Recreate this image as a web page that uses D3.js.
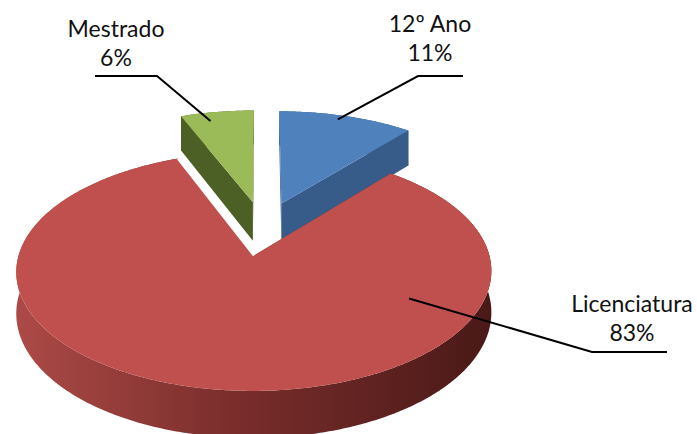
<!DOCTYPE html>
<html>
<head>
<meta charset="utf-8">
<script src="https://cdn.jsdelivr.net/npm/d3@7"></script>
<style>
  body { margin: 0; background: #fff; }
  .label { font-family: Lato, "Open Sans", sans-serif; font-size: 23px; fill: #111; }
  .leader { fill: none; stroke: #000; stroke-width: 2; }
</style>
</head>
<body>
<script>
//chart data
var categories = ["12º Ano", "Licenciatura", "Mestrado"];
var values = [11, 83, 6];
var pctLabels = ["11%", "83%", "6%"];

//colours for top faces and side faces
var topColors = ["#4F81BD", "#C0504D", "#9BBB59"];
var sideColors = ["#375C8A", "url(#redSide)", "#4C5F25"];

var width = 697,
    height = 434;

//3d view settings: screen position of pie centre, horizontal radius,
//vertical radius, perspective strength, side height, explode distance
var view = {cx: 263, cy: 228, a: 228, ab: 110, c: 0.13, h: 39.5, explode: 0.245};

//label layout: text position, leader elbow and where the leader touches the slice
var labelLayout = [
    {x: 430, y: 32, line: [[463, 76], [418, 76]], angle: 18, r: 0.95},
    {x: 632, y: 312, line: [[667, 352], [592, 352]], angle: 119, r: 0.72},
    {x: 116, y: 37, line: [[95, 76], [157, 76]], angle: 346, r: 0.9}
];

var svg = d3.select("body")
    .append("svg")
    .attr("width", width)
    .attr("height", height);

//gradient for the red outer wall
var grad = svg.append("defs").append("linearGradient")
    .attr("id", "redSide")
    .attr("gradientUnits", "userSpaceOnUse")
    .attr("x1", 15).attr("x2", 490)
    .attr("y1", 0).attr("y2", 0);
grad.append("stop").attr("offset", "0%").attr("stop-color", "#AD4A47");
grad.append("stop").attr("offset", "45%").attr("stop-color", "#7A2E2C");
grad.append("stop").attr("offset", "100%").attr("stop-color", "#4A1917");

var color = d3.scaleOrdinal().domain(categories).range(topColors);
var sideColor = d3.scaleOrdinal().domain(categories).range(sideColors);

//slices clockwise from 12 o'clock, keep data order
var pie = d3.pie().sort(null).value(function(d){ return d.value; });
var slices = pie(categories.map(function(c, i){ return {name: c, value: values[i], pct: pctLabels[i]}; }));

//project a point of the pie plane (X right, W away from viewer, H up) to the screen
function project(X, W, H){
    var d = 1 + view.c * W;
    return [view.cx + view.a * X / d, view.cy - (view.ab * W + view.h * H) / d];
}

slices.forEach(function(s){
    var mid = (s.startAngle + s.endAngle) / 2;
    s.ox = view.explode * Math.sin(mid);
    s.ow = view.explode * Math.cos(mid);
});

function rimPoint(s, t, r, H){
    return project(s.ox + r * Math.sin(t), s.ow + r * Math.cos(t), H);
}

function rim(s, H){
    var pts = [];
    var n = Math.max(4, Math.ceil((s.endAngle - s.startAngle) / 0.01));
    for (var i = 0; i <= n; i++){
        var t = s.startAngle + (s.endAngle - s.startAngle) * i / n;
        pts.push(rimPoint(s, t, 1, H));
    }
    return pts;
}

var line = d3.line();

function topPath(s){
    return line([project(s.ox, s.ow, 0)].concat(rim(s, 0))) + "Z";
}
function outerPath(s){
    return line(rim(s, 0).concat(rim(s, -1).reverse())) + "Z";
}
function cutPath(s, t){
    var c0 = project(s.ox, s.ow, 0),
        c1 = project(s.ox, s.ow, -1);
    return line([c0, rimPoint(s, t, 1, 0), rimPoint(s, t, 1, -1), c1]) + "Z";
}

//side walls, far slices first
var order = slices.slice().sort(function(p, q){ return q.ow - p.ow; });

var sides = svg.append("g");
order.forEach(function(s){
    sides.append("path")
        .attr("d", outerPath(s))
        .attr("fill", sideColor(s.data.name));
    [s.startAngle, s.endAngle].forEach(function(t){
        sides.append("path")
            .attr("d", cutPath(s, t))
            .attr("fill", sideColor(s.data.name) === "url(#redSide)" ? "#7A2E2C" : sideColor(s.data.name));
    });
});

//top faces
svg.append("g").selectAll("path")
    .data(order)
    .enter()
    .append("path")
    .attr("d", topPath)
    .attr("fill", function(d){ return color(d.data.name); });

//thin white edge along the trailing edge of the big slice
var big = slices[1];
svg.append("path")
    .attr("d", line([project(big.ox, big.ow, 0), rimPoint(big, big.endAngle, 1, 0)]))
    .attr("stroke", "#fff")
    .attr("stroke-width", 2.5)
    .attr("fill", "none");

//labels and leader lines
slices.forEach(function(s, i){
    var L = labelLayout[i];
    var anchor = rimPoint(s, L.angle * Math.PI / 180, L.r, 0);
    svg.append("path")
        .attr("class", "leader")
        .attr("d", line(L.line.concat([anchor])));
    var txt = svg.append("text")
        .attr("class", "label")
        .attr("text-anchor", "middle")
        .attr("x", L.x)
        .attr("y", L.y);
    txt.append("tspan").attr("x", L.x).text(s.data.name);
    txt.append("tspan").attr("x", L.x).attr("dy", 29).text(s.data.pct);
});
</script>
</body>
</html>
